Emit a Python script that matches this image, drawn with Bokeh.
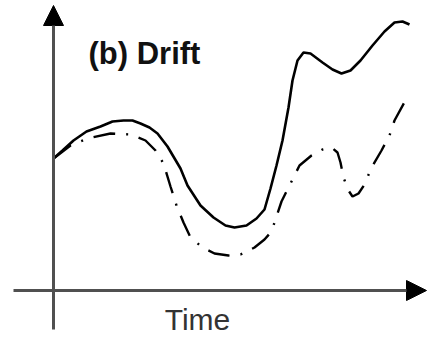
from bokeh.plotting import figure
from bokeh.models import Range1d, Arrow, NormalHead, Label
from bokeh.embed import file_html
from bokeh.resources import INLINE

# Schematic "drift" curves (arbitrary units: time, value)
time_solid = [0, 0.9, 2.0, 3.3, 4.7, 5.9, 7.0, 7.9, 8.7, 9.6, 10.4, 11.4, 12.7, 13.4,
              14.7, 16.0, 17.2, 18.1, 19.3, 20.3, 21.1, 21.7, 22.3, 22.9, 23.5, 23.9,
              24.4, 25.0, 25.7, 26.9, 27.9, 28.8, 29.7, 30.7, 31.9, 33.1, 34.1, 34.9, 35.6]
value_solid = [13.2, 14.0, 15.0, 15.9, 16.4, 16.9, 17.0, 17.0, 16.7, 16.3, 15.7, 14.4, 12.2, 10.5,
               8.5, 7.3, 6.5, 6.3, 6.5, 7.2, 8.1, 10.2, 12.5, 15.0, 18.3, 21.0,
               23.0, 23.8, 23.7, 22.8, 22.1, 21.7, 22.0, 23.0, 24.5, 25.9, 26.8, 26.9, 26.6]

time_dash = [0, 1.7, 3.4, 5.7, 7.7, 9.2, 10.2, 11.0, 11.7, 12.3, 13.0, 13.7, 14.9, 16.1,
             17.5, 18.7, 20.1, 21.1, 21.8, 22.3, 22.8, 23.4, 23.9, 24.6, 25.8, 26.9, 27.8,
             28.4, 28.7, 29.0, 29.5, 29.9, 30.5, 31.1, 31.8, 32.8, 33.6, 34.1, 35.3]
value_dash = [13.2, 14.5, 15.2, 15.7, 15.6, 15.0, 14.0, 12.7, 10.4, 8.5, 6.8, 5.3, 4.3, 3.7,
              3.5, 3.6, 4.3, 5.1, 5.9, 7.4, 8.9, 10.1, 11.1, 12.5, 13.5, 14.1, 14.3,
              13.8, 12.8, 11.3, 10.0, 9.4, 9.7, 10.6, 12.3, 14.0, 15.5, 17.0, 19.2]

title_text = "(b) Drift"
x_label = "Time"

p = figure(width=428, height=338, output_backend="svg", toolbar_location=None,
           x_range=Range1d(-5.3, 37.5), y_range=Range1d(-4.8, 29.0),
           min_border=0, margin=(0, 0, 0, 0))
p.axis.visible = False
p.grid.visible = False
p.outline_line_color = None
p.background_fill_color = "white"
p.border_fill_color = "white"

# axes with arrowheads
p.add_layout(Arrow(x_start=0, y_start=-3.9, x_end=0, y_end=28.5,
                   line_color="#505050", line_width=3,
                   end=NormalHead(size=20, fill_color="black", line_color="black", line_width=1)))
p.add_layout(Arrow(x_start=-4.0, y_start=0, x_end=37.3, y_end=0,
                   line_color="#505050", line_width=3,
                   end=NormalHead(size=20, fill_color="black", line_color="black", line_width=1)))

p.line(time_solid, value_solid, line_color="black", line_width=2.6)
p.line(time_dash, value_dash, line_color="black", line_width=2.4, line_dash="22 11 2 11")

p.add_layout(Label(x=3.5, y=23.7, text=title_text, text_font="Liberation Sans",
                   text_font_style="bold", text_font_size="31px", text_color="#111111",
                   text_align="left", text_baseline="middle"))
p.add_layout(Label(x=14.4, y=-2.9, text=x_label, text_font="Liberation Sans",
                   text_font_size="30px", text_color="#333333",
                   text_align="center", text_baseline="middle"))

open("out.html", "w").write(file_html(p, INLINE))
